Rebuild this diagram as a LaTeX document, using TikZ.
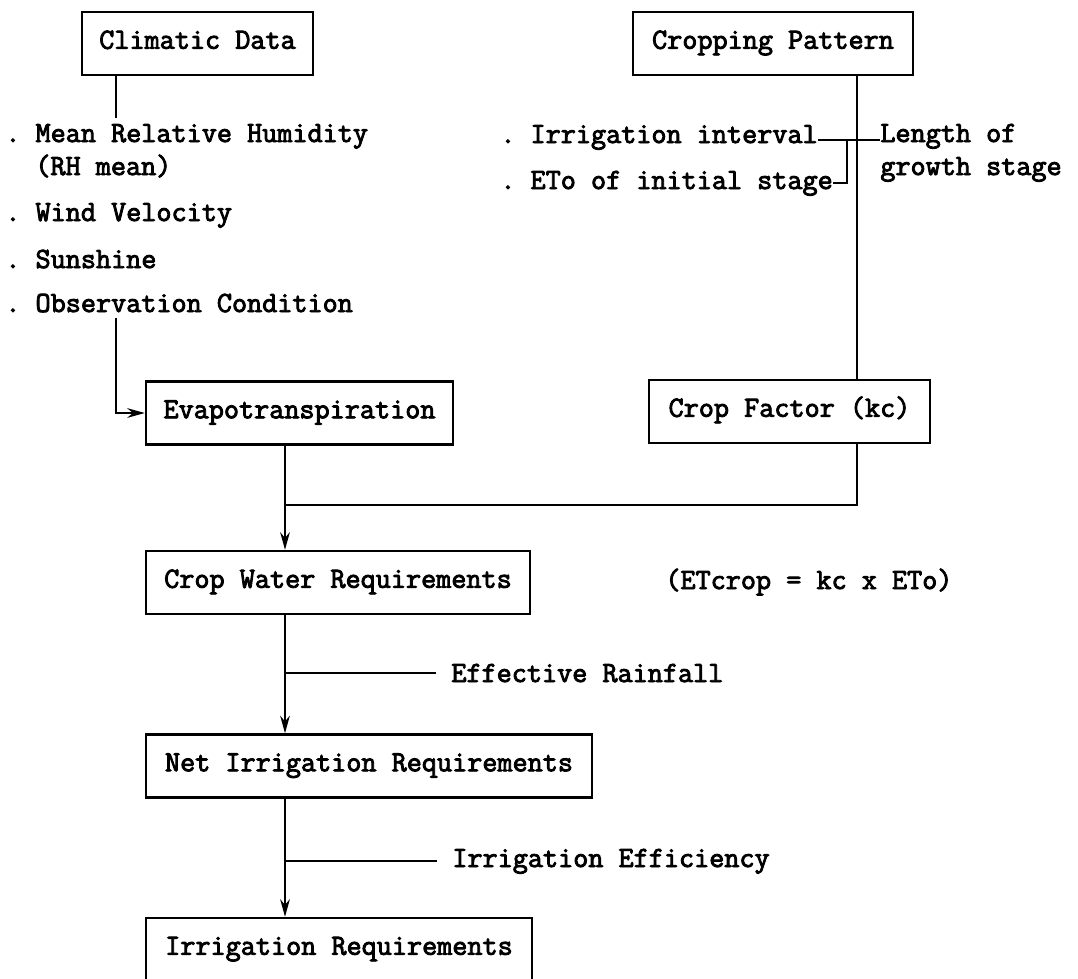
\documentclass[tikz,border=0pt]{standalone}
\usepackage{fontspec}
\setmonofont{Latin Modern Mono}[AutoFakeBold=3]
\usetikzlibrary{positioning,arrows.meta}
\tikzset{
  every node/.style={font=\ttfamily\bfseries\fontsize{16.7}{20}\selectfont},
  blk/.style={draw,line width=1.4pt,minimum height=1.26cm,inner sep=0pt,text height=0.6em,text depth=0pt},
  txt/.style={inner sep=0pt,anchor=base west},
  ln/.style={line width=1.2pt},
  thin ln/.style={line width=0.7pt},
  arr/.style={ln,-{Stealth[length=10pt,width=5.5pt]}}
}
\begin{document}
\begin{tikzpicture}[x=0.02cm,y=-0.02cm]
\useasboundingbox (0,0) rectangle (1078,978);
\clip (0,0) rectangle (1078,978);

% main boxes
\node[blk,minimum width=4.62cm] (clim) at (197.5,43.5) {Climatic Data};
\node[blk,minimum width=5.6cm] (cpat) at (773,43.5) {Cropping Pattern};
\node[blk,minimum width=6.14cm] (evap) at (299.5,413) {Evapotranspiration};
\node[blk,minimum width=5.62cm] (kc) at (789.5,411.5) {Crop Factor (kc)};
\node[blk,minimum width=7.68cm] (cwr) at (338,582.5) {Crop Water Requirements};
\node[blk,minimum width=8.92cm] (nir) at (369,766) {Net Irrigation Requirements};
\node[blk,minimum width=7.72cm] (ir) at (339,949.5) {Irrigation Requirements};

% climatic items
\node[txt] (humid) at (5,142) {. Mean Relative Humidity};
\node[txt] (rh) at (35,175) {(RH mean)};
\node[txt] (wind) at (5,221) {. Wind Velocity};
\node[txt] (sun) at (5,268) {. Sunshine};
\node[txt] (obs) at (5,312) {. Observation Condition};

% cropping items
\node[txt] (irrint) at (500,143) {. Irrigation interval};
\node[txt] (eto) at (500,189) {. ETo of initial stage};
\node[txt] (length) at (880,142) {Length of};
\node[txt] (growth) at (880,175) {growth stage};

\node[txt] (formula) at (665,589) {(ETcrop = kc x ETo)};
\node[txt] (effrain) at (451,682) {Effective Rainfall};
\node[txt] (irreff) at (452,867) {Irrigation Efficiency};

\coordinate (cdrop) at (116,118);
\coordinate (odrop) at (116,318);
\coordinate (join) at (285,505);
\coordinate (kdrop) at (857,505);
\coordinate (brktop) at (847,140);
\coordinate (brkbot) at (847,183);

% connectors
\draw[ln] (clim.south -| cdrop) -- (cdrop);
\draw[arr] (odrop) |- (evap.west);
\draw[ln] (cpat.south -| kdrop) -- (kc.north -| kdrop);
\draw[thin ln] (irrint.base east |- brktop) -- (length.base west |- brktop);
\draw[thin ln] (eto.base east |- brkbot) -- (brkbot) -- (brktop);
\draw[ln] (evap.south -| join) -- (join);
\draw[ln] (kc.south -| kdrop) -- (kdrop) -- (join);
\draw[arr] (join) -- (cwr.north -| join);
\draw[arr] (cwr.south -| join) -- (nir.north -| join);
\draw[ln,shorten <=0.3cm] (effrain.west) -- (effrain.west -| join);
\draw[arr] (nir.south -| join) -- (ir.north -| join);
\draw[ln,shorten <=0.3cm] (irreff.west) -- (irreff.west -| join);

\end{tikzpicture}
\end{document}
